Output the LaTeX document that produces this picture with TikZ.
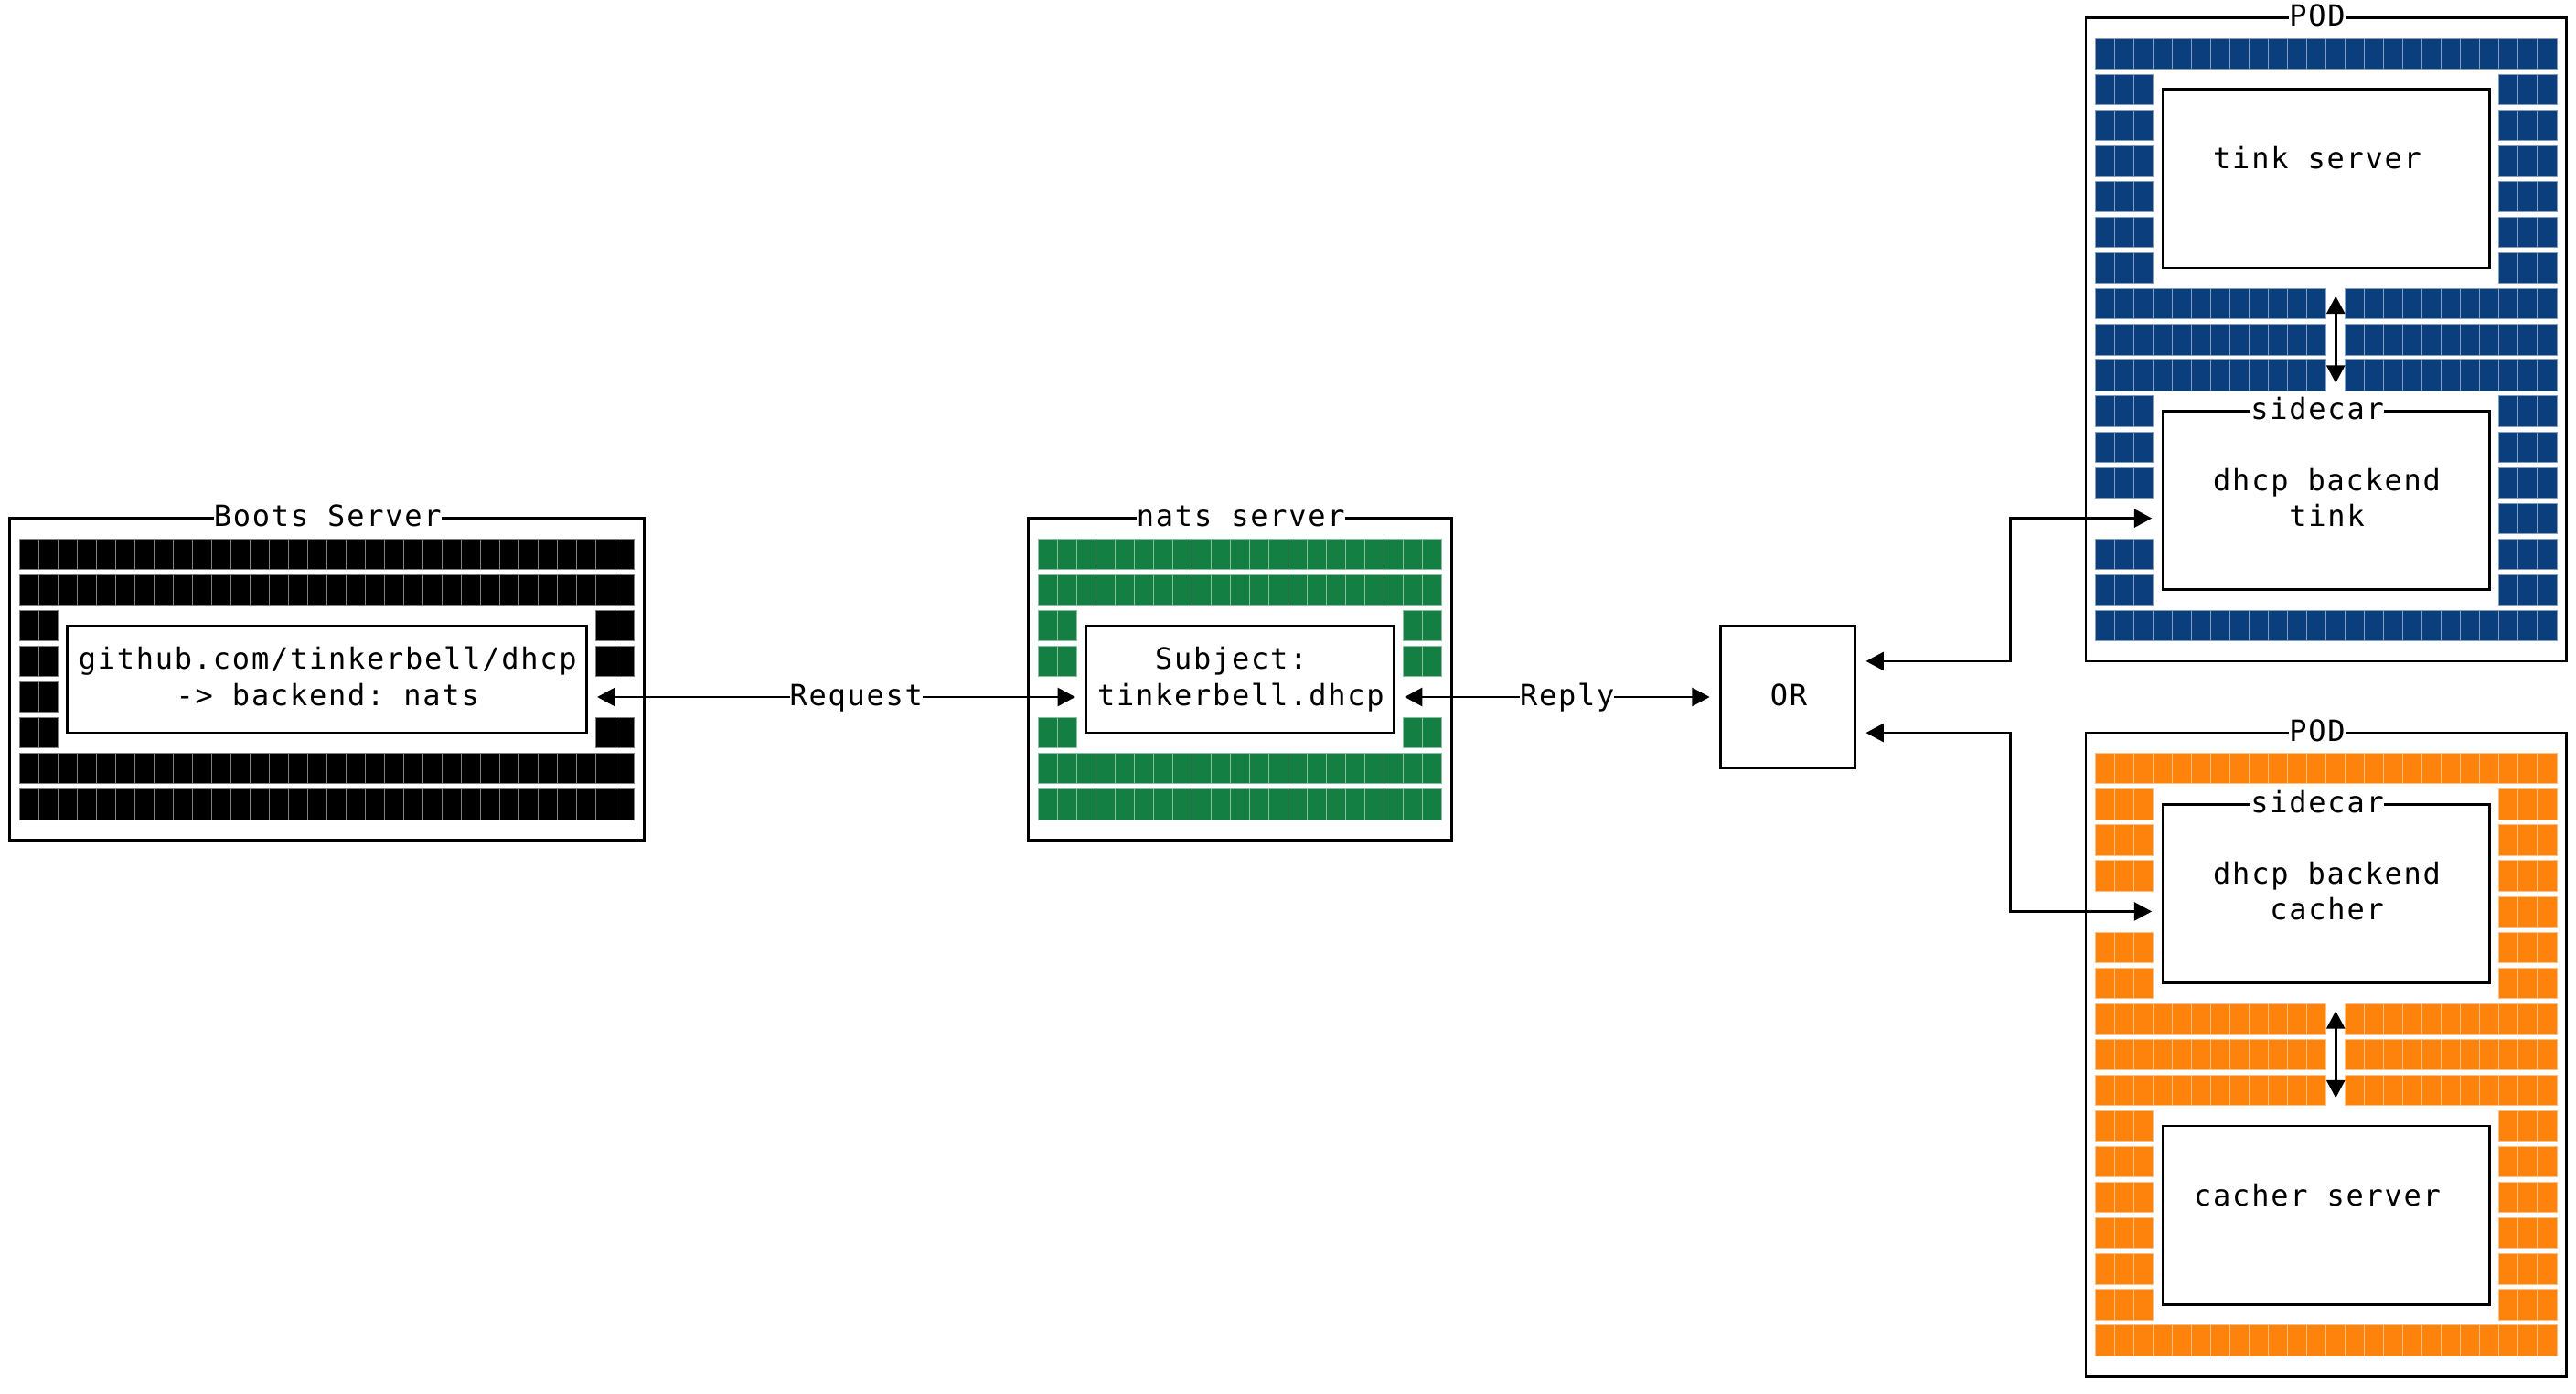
\documentclass[tikz,border=0pt]{standalone}
\usepackage{fontspec}
\usetikzlibrary{arrows.meta,calc}
\newfontfamily\gridfont{DejaVu Sans Mono}[LetterSpace=5.5]
\definecolor{natsgreen}{HTML}{137F42}
\definecolor{tinkblue}{HTML}{0B3E7D}
\definecolor{cacherorange}{HTML}{FD830C}
\begin{document}
\begin{tikzpicture}[x=6.3067pt, y=11.7231pt, line width=0.8pt, >={Triangle[length=5.8pt,width=6pt]},
  box/.style={draw, inner sep=0pt},
  txt/.style={font=\gridfont\fontsize{9.6pt}{11pt}\selectfont\frenchspacing, inner sep=0pt, fill=white, anchor=base, xshift=0.26pt, yshift=-2.7pt}]
\def\cx{6.3067pt}
\def\cy{11.7231pt}
\useasboundingbox (0,0) rectangle (134,-39);
% blocks: colour / first col / last col / first row / last row
\foreach \c/\a/\b/\p/\q in {black/1/32/15/16, black/1/32/21/22, black/1/2/17/20, black/31/32/17/18, black/31/32/20/20,
  natsgreen/54/74/15/16, natsgreen/54/74/21/22, natsgreen/54/55/17/18, natsgreen/54/55/20/20, natsgreen/73/74/17/18, natsgreen/73/74/20/20,
  tinkblue/109/132/1/1, tinkblue/109/111/2/7, tinkblue/130/132/2/7, tinkblue/109/120/8/10, tinkblue/122/132/8/10,
  tinkblue/109/111/11/13, tinkblue/109/111/15/16, tinkblue/130/132/11/16, tinkblue/109/132/17/17,
  cacherorange/109/132/21/21, cacherorange/109/111/22/24, cacherorange/109/111/26/27, cacherorange/130/132/22/27,
  cacherorange/109/120/28/30, cacherorange/122/132/28/30, cacherorange/109/111/31/36, cacherorange/130/132/31/36, cacherorange/109/132/37/37}
  \foreach \i in {\a,...,\b}
    \foreach \j in {\p,...,\q}
      \filldraw[fill=\c, draw=\c!50!white, line width=0.3pt] (\i,-\j-0.08) rectangle (\i+1,-\j-0.93);
% boxes
\foreach \n/\x/\y/\w/\h in {boots/17/-19/33/9, bootsin/17/-19/27/3, nats/64.5/-19/22/9, natsin/64.5/-19/16/3, orbox/93/-19.5/7/4,
  pod1/121/-9.5/25/18, tink/121/-5/17/5, side1/121/-14/17/5, pod2/121/-29.5/25/18, side2/121/-25/17/5, cacher/121/-34/17/5}
  \node[box, minimum width=\w*\cx, minimum height=\h*\cy] (\n) at (\x,\y) {};
% texts
\foreach \n/\x/\r/\t in {tboots/17/14/Boots Server, tgit/17/18/{github.com/tinkerbell/dhcp}, tback/17/19/-> backend: nats,
  tnats/64.5/14/nats server, tsubj/64/18/Subject:, tsubj2/64.5/19/tinkerbell.dhcp, tor/93/19/OR,
  tpod1/120.5/0/POD, ttink/120.5/4/tink server, tside1/120.5/11/sidecar, tdhcp1/121/13/dhcp backend, tdhcp1b/121/14/tink,
  tpod2/120.5/20/POD, tside2/120.5/22/sidecar, tdhcp2/121/24/dhcp backend, tdhcp2b/121/25/cacher, tcacher/120.5/33/cacher server}
  \node[txt] (\n) at (\x,-\r-0.5) {\t};
% connectors
\draw[<->] ($(bootsin.east)+(0.5,-0.5)$) -- node[txt, pos=0.54] (lreq) {Request} ($(natsin.west)+(-0.5,-0.5)$);
\draw[<->] ($(natsin.east)+(0.5,-0.5)$) -- node[txt, pos=0.53] (lrep) {Reply} ($(orbox.west)+(-0.5,0)$);
\draw[<->] ($(orbox.east)+(0.5,1)$) -- ++(7.5,0) |- ($(side1.west)+(-0.5,-0.5)$);
\draw[<->] ($(orbox.east)+(0.5,-1)$) -- ++(7.5,0) |- ($(side2.west)+(-0.5,-0.5)$);
\draw[<->, shorten <=8.8pt, shorten >=8.8pt] ($(tink.south)+(0.5,0)$) -- ($(side1.north)+(0.5,0)$);
\draw[<->, shorten <=8.8pt, shorten >=8.8pt] ($(side2.south)+(0.5,0)$) -- ($(cacher.north)+(0.5,0)$);
\end{tikzpicture}
\end{document}
